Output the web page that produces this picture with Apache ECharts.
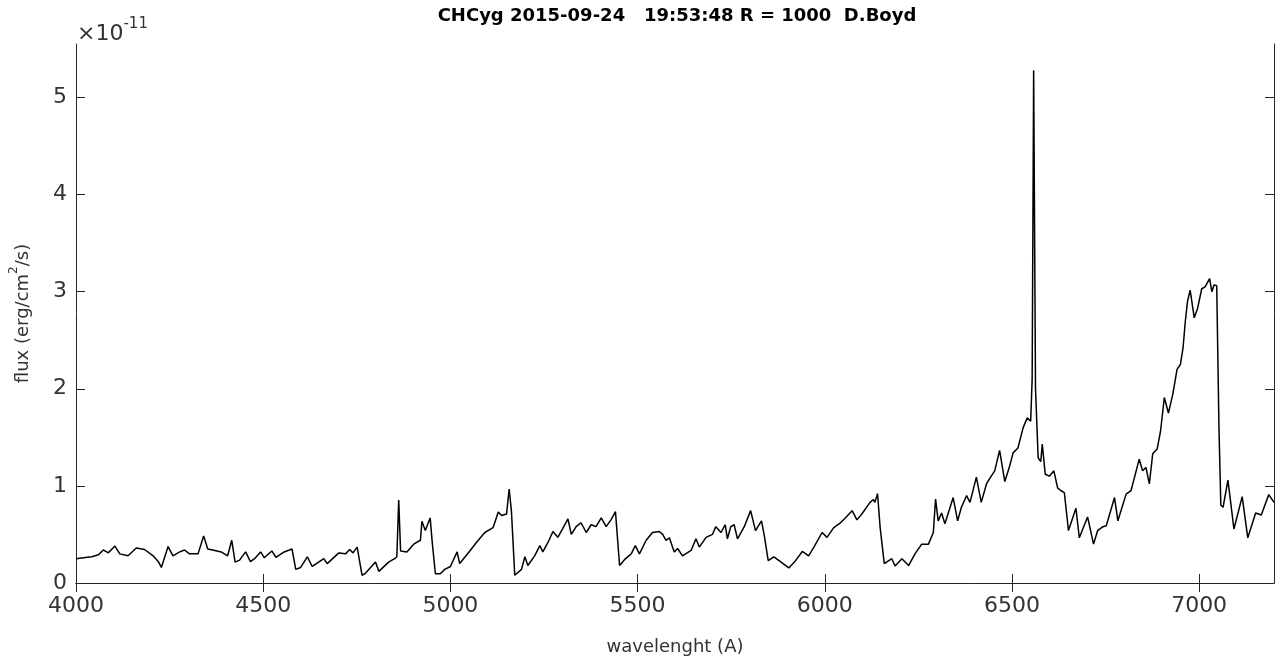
<!DOCTYPE html>
<html>
<head>
<meta charset="utf-8">
<script src="https://cdn.jsdelivr.net/npm/echarts@6/dist/echarts.min.js"></script>
<style>
html,body{margin:0;padding:0;background:#fff;}
#chart{width:1277px;height:661px;}
</style>
</head>
<body>
<div id="chart"></div>
<script>
// wavelength in Angstrom
const wavelength = [
4000,4020,4042,4060,4073,4086,4104,4117,4139,4161,4183,4206,4220,4228,4246,4259,4277,4290,4303,4326,
4341,4352,4365,4388,4405,4416,4425,4437,4453,4466,4477,4493,4503,4523,4534,4556,4577,4587,4600,4618,
4631,4662,4671,4702,4720,4731,4740,4751,4764,4773,4800,4809,4835,4851,4857,4862,4867,4884,4902,4920,
4924,4933,4946,4952,4960,4973,4985,5000,5018,5025,5053,5070,5092,5114,5128,5137,5150,5157,5163,5172,
5190,5199,5207,5225,5239,5247,5261,5274,5287,5300,5314,5323,5336,5349,5363,5376,5389,5403,5416,5429,
5441,5452,5465,5483,5494,5505,5523,5540,5558,5567,5576,5585,5598,5607,5620,5643,5656,5665,5683,5700,
5709,5723,5734,5740,5749,5758,5767,5785,5802,5815,5831,5838,5849,5864,5878,5904,5922,5940,5957,5971,
5993,6006,6024,6042,6055,6073,6086,6099,6121,6130,6134,6141,6148,6159,6179,6188,6206,6224,6241,6259,
6277,6290,6296,6303,6312,6321,6343,6355,6365,6379,6388,6405,6418,6432,6443,6454,6467,6481,6494,6503,
6516,6530,6541,6550,6554,6558,6563,6570,6577,6581,6589,6600,6612,6622,6631,6640,6651,6671,6680,6702,
6718,6729,6743,6752,6774,6783,6805,6818,6840,6849,6858,6867,6876,6888,6897,6907,6918,6930,6941,6950,
6957,6963,6969,6976,6987,6996,7007,7016,7028,7034,7040,7047,7053,7058,7064,7077,7093,7115,7130,7151,
7166,7186,7200
];
// flux in units of 1e-11 erg/cm^2/s
const flux = [
0.25,0.26,0.27,0.29,0.34,0.31,0.38,0.30,0.28,0.36,0.345,0.28,0.22,0.16,0.375,0.28,0.32,0.34,0.30,0.30,
0.485,0.35,0.34,0.32,0.28,0.44,0.215,0.235,0.32,0.22,0.25,0.32,0.26,0.33,0.265,0.32,0.35,0.14,0.16,0.27,
0.17,0.25,0.20,0.31,0.30,0.345,0.31,0.37,0.08,0.10,0.215,0.12,0.215,0.25,0.27,0.855,0.33,0.32,0.40,0.44,
0.635,0.54,0.67,0.40,0.095,0.095,0.14,0.17,0.32,0.20,0.335,0.42,0.52,0.57,0.73,0.695,0.71,0.966,0.745,0.08,
0.14,0.27,0.18,0.28,0.385,0.32,0.42,0.53,0.47,0.56,0.66,0.50,0.58,0.62,0.52,0.60,0.58,0.67,0.58,0.65,
0.735,0.18,0.24,0.30,0.385,0.30,0.44,0.52,0.53,0.50,0.44,0.465,0.32,0.355,0.28,0.335,0.455,0.37,0.47,0.50,
0.58,0.52,0.60,0.455,0.58,0.60,0.455,0.58,0.745,0.54,0.64,0.50,0.23,0.27,0.23,0.155,0.23,0.325,0.28,0.37,
0.52,0.47,0.57,0.62,0.67,0.745,0.65,0.71,0.83,0.86,0.83,0.92,0.57,0.20,0.25,0.175,0.25,0.18,0.30,0.40,
0.40,0.52,0.865,0.64,0.72,0.61,0.88,0.64,0.78,0.90,0.83,1.09,0.83,1.02,1.09,1.155,1.365,1.045,1.205,1.34,
1.39,1.60,1.70,1.665,2.10,5.28,2.00,1.29,1.25,1.43,1.12,1.10,1.155,0.98,0.95,0.93,0.54,0.77,0.465,0.68,
0.40,0.54,0.58,0.59,0.88,0.64,0.915,0.95,1.275,1.155,1.19,1.02,1.33,1.38,1.565,1.91,1.75,1.95,2.20,2.25,
2.42,2.69,2.90,3.015,2.73,2.83,3.03,3.05,3.135,3.00,3.07,3.06,1.60,0.80,0.78,1.06,0.556,0.89,0.465,0.72,
0.70,0.91,0.83
];
const xTicks = [4000, 4500, 5000, 5500, 6000, 6500, 7000];
const yTicks = [0, 1, 2, 3, 4, 5];
const titleText = 'CHCyg 2015-09-24   19:53:48 R = 1000  D.Boyd';
const xName = 'wavelenght (A)';

const seriesData = wavelength.map((w, i) => [w, flux[i]]);

const FONT = 'DejaVu Sans';
const TXT = '#333333';
const AX = '#262626';

const chart = echarts.init(document.getElementById('chart'), null, {renderer: 'canvas'});
chart.setOption({
  animation: false,
  backgroundColor: '#ffffff',
  title: [
    {
      text: titleText,
      left: 672, top: 2, textAlign: 'center',
      textStyle: {fontFamily: FONT, fontWeight: 'bold', fontSize: 18, color: '#000'}
    },
    {
      text: '{a|×10}{b|-11}',
      left: 72, top: 12,
      textStyle: {
        fontWeight: 'normal',
        rich: {
          a: {fontFamily: FONT, fontWeight: 'normal', fontSize: 22, color: TXT, verticalAlign: 'bottom', lineHeight: 28},
          b: {fontFamily: FONT, fontWeight: 'normal', fontSize: 15, color: TXT, verticalAlign: 'top', padding: [0,0,16,0], lineHeight: 28}
        }
      }
    }
  ],
  grid: {left: 71, right: 3, top: 44, bottom: 75, containLabel: false},
  xAxis: [
    {
      type: 'value', min: 4000, max: 7200, position: 'bottom',
      name: xName, nameLocation: 'middle', nameGap: 55,
      nameTextStyle: {fontFamily: FONT, fontSize: 18, color: TXT},
      axisLine: {show: true, lineStyle: {color: AX, width: 1}},
      axisTick: {show: true, inside: true, length: 9, customValues: xTicks, lineStyle: {color: AX}},
      axisLabel: {show: true, customValues: xTicks, fontFamily: FONT, fontSize: 22, color: TXT, margin: 12,
        formatter: v => String(v)},
      splitLine: {show: false}
    },
    {
      type: 'value', min: 4000, max: 7200, position: 'top',
      axisLine: {show: true, lineStyle: {color: AX, width: 1}},
      axisTick: {show: true, inside: true, length: 9, customValues: xTicks, lineStyle: {color: AX}},
      axisLabel: {show: false},
      splitLine: {show: false}
    }
  ],
  yAxis: [
    {
      type: 'value', min: 0, max: 5.55, position: 'left',
      name: '{n|flux (erg/cm}{s|2}{n|/s)}', nameLocation: 'middle', nameGap: 44, nameRotate: 90,
      nameTextStyle: {
        rich: {
          n: {fontFamily: FONT, fontSize: 18, color: TXT, verticalAlign: 'bottom', lineHeight: 24},
          s: {fontFamily: FONT, fontSize: 12, color: TXT, verticalAlign: 'top', padding: [0,0,11,0], lineHeight: 24}
        }
      },
      axisLine: {show: true, lineStyle: {color: AX, width: 1}},
      axisTick: {show: true, inside: true, length: 9, customValues: yTicks, lineStyle: {color: AX}},
      axisLabel: {show: true, customValues: yTicks, fontFamily: FONT, fontSize: 22, color: TXT, margin: 9},
      splitLine: {show: false}
    },
    {
      type: 'value', min: 0, max: 5.55, position: 'right',
      axisLine: {show: true, lineStyle: {color: AX, width: 1}},
      axisTick: {show: true, inside: true, length: 9, customValues: yTicks, lineStyle: {color: AX}},
      axisLabel: {show: false},
      splitLine: {show: false}
    }
  ],
  series: [{
    type: 'line',
    xAxisIndex: 0, yAxisIndex: 0,
    data: seriesData,
    showSymbol: false,
    symbol: 'none',
    lineStyle: {color: '#000000', width: 1.5},
    silent: true
  }]
});
</script>
</body>
</html>
